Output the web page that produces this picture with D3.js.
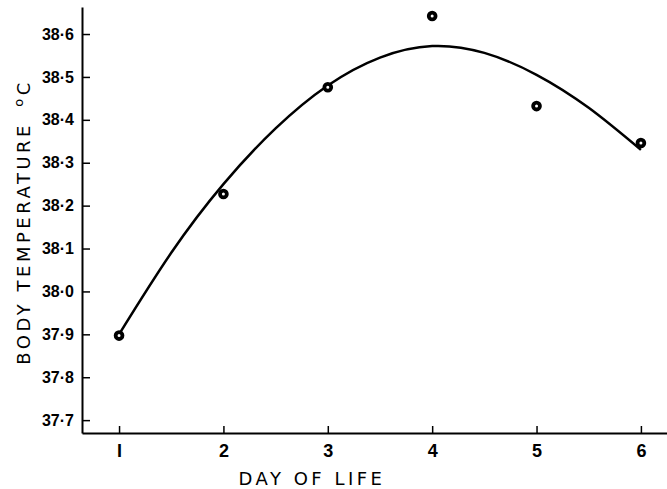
<!DOCTYPE html>
<html>
<head>
<meta charset="utf-8">
<title>Body temperature by day of life</title>
<script src="https://d3js.org/d3.v7.min.js"></script>
<style>
body {margin:0; background:white;}
.tick text {font-family:"Liberation Sans", Arial, sans-serif; font-weight:bold; font-size:16px; fill:black;}
.xax .tick text {font-size:18px;}
.lab {font-family:"DejaVu Sans", sans-serif; font-size:18px; letter-spacing:3.5px; fill:black;}
</style>
</head>
<body>
<svg width="667" height="489"></svg>
<script>
// measured points
var days = [1, 2, 3, 4, 5, 6];
var temps = [37.897, 38.227, 38.476, 38.642, 38.432, 38.346];
// fitted curve
var curveDays = [1, 1.5, 2, 2.5, 3, 3.5, 4, 4.5, 5, 5.5, 6];
var curveTemps = [37.90, 38.09, 38.25, 38.38, 38.48, 38.545, 38.572, 38.556, 38.505, 38.428, 38.33];
var yTicks = [37.7, 37.8, 37.9, 38.0, 38.1, 38.2, 38.3, 38.4, 38.5, 38.6];
var xTicks = [1, 2, 3, 4, 5, 6];

var svg = d3.select("svg");
var x = d3.scaleLinear().domain([0.645, 6.25]).range([82, 667]);
var y = d3.scaleLinear().domain([37.67, 38.663]).range([433, 7]);

function fmt(d) {
  return d.toFixed(1).replace(".", "\u00b7");
}

var xAxis = d3.axisBottom(x).tickValues(xTicks).tickSize(-7).tickSizeOuter(0).tickPadding(11)
  .tickFormat(function(d) { return d == 1 ? "I" : d; });
var yAxis = d3.axisLeft(y).tickValues(yTicks).tickSize(-8).tickSizeOuter(0).tickPadding(8)
  .tickFormat(fmt);

svg.append("g").attr("class", "xax").attr("transform", "translate(0,433)").call(xAxis);
svg.append("g").attr("transform", "translate(82,0)").call(yAxis);
svg.selectAll(".domain").attr("stroke", "black").attr("stroke-width", 2);
svg.selectAll(".tick line").attr("stroke", "black").attr("stroke-width", 1.5);

var line = d3.line()
  .x(function(d, i) { return x(curveDays[i]); })
  .y(function(d) { return y(d); })
  .curve(d3.curveNatural);

svg.append("path")
  .attr("d", line(curveTemps))
  .attr("fill", "none")
  .attr("stroke", "black")
  .attr("stroke-width", 2.5);

svg.selectAll(".pt")
  .data(temps)
  .enter()
  .append("circle")
  .attr("class", "pt")
  .attr("cx", function(d, i) { return x(days[i]); })
  .attr("cy", function(d) { return y(d); })
  .attr("r", 3.4)
  .attr("fill", "white")
  .attr("stroke", "black")
  .attr("stroke-width", 3.8);

svg.append("text")
  .attr("class", "lab")
  .attr("x", 312)
  .attr("y", 485)
  .attr("text-anchor", "middle")
  .text("DAY OF LIFE");

var yl = svg.append("text")
  .attr("class", "lab")
  .attr("transform", "translate(30,222) rotate(-90)")
  .attr("text-anchor", "middle");
yl.append("tspan").text("BODY TEMPERATURE ");
yl.append("tspan").attr("dx", 6).attr("dy", -7).attr("font-size", 13).text("o");
yl.append("tspan").attr("dy", 7).text("C");
</script>
</body>
</html>
